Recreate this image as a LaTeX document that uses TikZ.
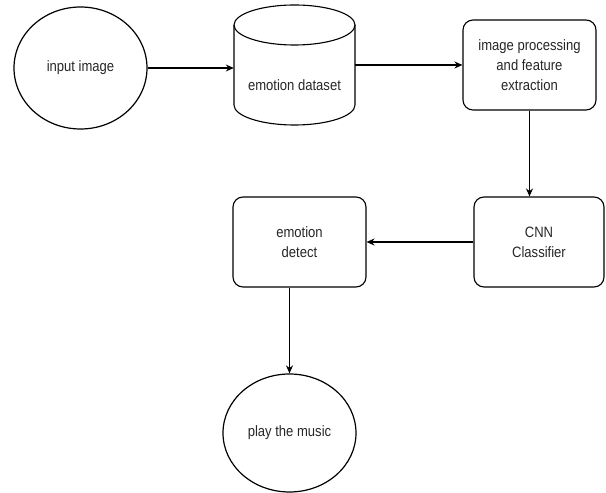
\documentclass[tikz,border=0pt]{standalone}
\usepackage{fontspec}
\setmainfont[FakeStretch=0.87]{Liberation Sans}
\usetikzlibrary{arrows.meta,shapes.geometric}
\begin{document}
\begin{tikzpicture}[x=1pt,y=1pt,
  every node/.style={font=\fontsize{15}{20}\selectfont, text=black!85, align=center, inner sep=0pt},
  oval/.style={draw, ellipse, line width=1.2pt, minimum width=133, minimum height=120},
  rbox/.style={draw, rectangle, rounded corners=10pt, line width=1.1pt, minimum height=90},
  conn/.style={line width=1.2pt, -{Stealth[length=8pt,width=7pt]}}]
\useasboundingbox (0,0) rectangle (606,493);
% nodes
\node[oval, minimum width=133, minimum height=122] (in) at (80.5,425) {input image};
% cylinder
\node[minimum width=121, minimum height=120] (ds) at (294.5,428) {};
\draw[line width=1.1pt] (234,468) -- (234,388) arc[start angle=180, end angle=360, x radius=60.5, y radius=20] -- (355,468);
\draw[line width=1.1pt] (294.5,468) ellipse[x radius=60.5, y radius=20];
\node (dstext) at (294.5,408) {emotion dataset};
\node[rbox, minimum width=133] (proc) at (529.5,428) {image processing\\and feature\\extraction};
\node[rbox, minimum width=130] (cnn) at (539,251) {CNN\\Classifier};
\node[rbox, minimum width=133] (det) at (299.5,251) {emotion\\detect};
\node[oval, minimum width=133, minimum height=118] (mus) at (289.5,60) {play the music};
% connectors
\draw[conn] (in.east) -- (in.east -| ds.west);
\draw[conn] (ds.east) -- (proc.west);
\draw[conn] (proc.south) -- (proc.south |- cnn.north);
\draw[conn] (cnn.west) -- (det.east);
\draw[conn] (det.south -| mus.north) -- (mus.north);
\end{tikzpicture}
\end{document}
